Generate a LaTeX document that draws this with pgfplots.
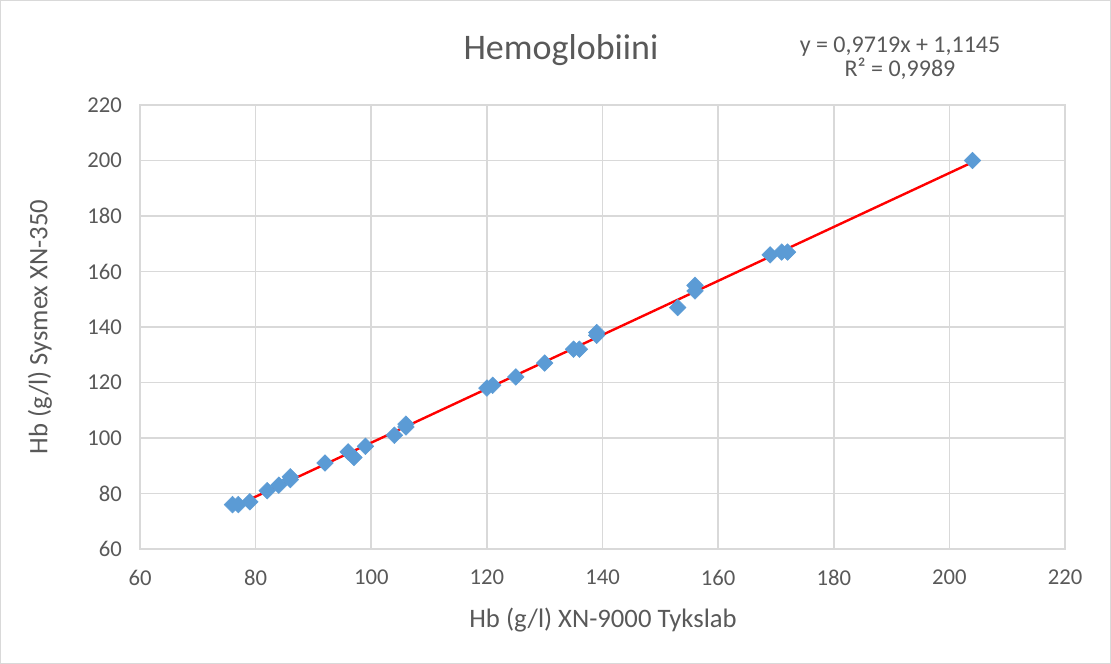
\documentclass[border=0pt]{standalone}
\usepackage{pgfplots}
\pgfplotsset{compat=1.18}
\usepackage{fontspec}
\setmainfont{Carlito}

\definecolor{txt}{HTML}{595959}
\definecolor{gridc}{HTML}{D9D9D9}
\definecolor{pts}{HTML}{5B9BD5}

% measurements done in pixels of the reference, 1px = 0.75pt

\begin{document}
\begin{tikzpicture}
\begin{axis}[
    at={(105pt,86.25pt)}, anchor=south west,
    scale only axis,
    width=693.75pt, height=333pt,
    xmin=60, xmax=220, ymin=60, ymax=220,
    xtick={60,80,...,220}, ytick={60,80,...,220},
    grid=major,
    major grid style={gridc, line width=1.2pt},
    axis line style={gridc, line width=1.2pt},
    tick style={draw=none},
    ticklabel style={font=\fontsize{17}{18}\selectfont, text=txt},
    /pgf/number format/assume math mode=true,
    xticklabel style={yshift=-12pt},
    yticklabel style={xshift=-10pt},
]
\addplot[only marks, mark=square*, mark size=4.4pt,
    mark options={rotate=45, fill=pts, draw=pts}] coordinates {
(76,76) (77,76) (79,77) (82,81) (84,83) (86,85) (86,86)
(92,91) (96,95) (97,93) (99,97) (104,101) (106,105) (106,104)
(120,118) (121,119) (125,122) (130,127) (135,132) (136,132)
(139,138) (139,137) (153,147) (156,155) (156,153)
(169,166) (171,167) (172,167) (204,200)
};
\addplot[red, line width=1.8pt] coordinates {(76,74.98) (204,199.38)};
\end{axis}

\begin{scope}[x=0.75pt,y=0.75pt]
\useasboundingbox (0,0) rectangle (1111,664);
\draw[gridc, line width=0.75pt] (0.5,0.5) rectangle (1110.5,663.5);
\node[text=txt, font=\fontsize{27}{30}\selectfont] at (561,614) {Hemoglobiini};
\node[text=txt, font=\fontsize{18}{20}\selectfont, align=center] at (900,606)
  {y = 0,9719x + 1,1145\\[-2pt]R² = 0,9989};
\node[text=txt, font=\fontsize{20}{22}\selectfont] at (603,44) {Hb (g/l) XN-9000 Tykslab};
\node[text=txt, font=\fontsize{20}{22}\selectfont, rotate=90] at (40,337) {Hb (g/l) Sysmex XN-350};
\end{scope}
\end{tikzpicture}
\end{document}
